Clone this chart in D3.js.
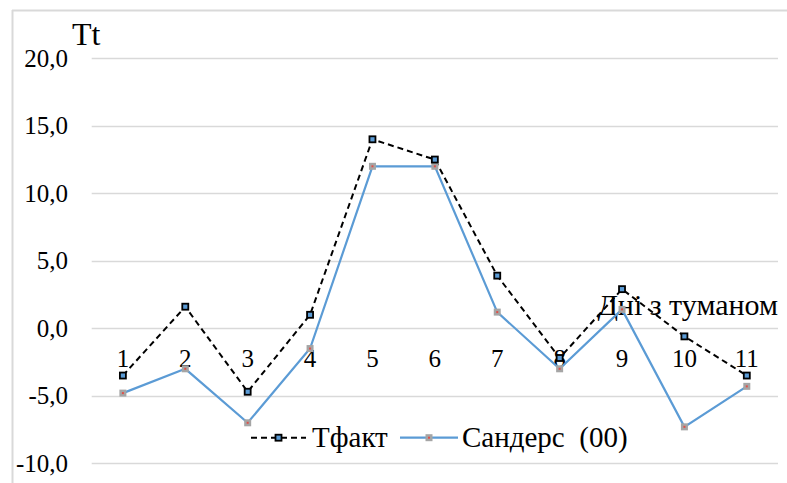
<!DOCTYPE html>
<html>
<head>
<meta charset="utf-8">
<script src="https://cdn.jsdelivr.net/npm/d3@7"></script>
<style>
  html, body { margin: 0; padding: 0; background: #fff; }
</style>
</head>
<body>
<svg id="chart" width="787" height="483"></svg>
<script>
// Days with fog and the air temperature values (fact vs. Sanders forecast)
const days = [1, 2, 3, 4, 5, 6, 7, 8, 9, 10, 11];
const tFact = [-3.5, 1.6, -4.7, 1.0, 14.0, 12.5, 3.9, -2.2, 2.9, -0.6, -3.5];
const sanders = [-4.8, -3.0, -7.0, -1.5, 12.0, 12.0, 1.2, -3.0, 1.4, -7.3, -4.3];
const yTicks = [-10, -5, 0, 5, 10, 15, 20];
const seriesNames = ["Тфакт", "Сандерс  (00)"];

const FONT = "'Liberation Serif', Tinos, 'Times New Roman', 'DejaVu Serif', serif";

const svg = d3.select("#chart")
  .attr("font-family", FONT)
  .style("font-family", FONT);

// chart frame (top and left edges visible)
svg.append("line").attr("x1", 12).attr("x2", 787).attr("y1", 10.5).attr("y2", 10.5)
  .attr("stroke", "#d9d9d9").attr("stroke-width", 2);
svg.append("line").attr("x1", 12.5).attr("x2", 12.5).attr("y1", 10).attr("y2", 483)
  .attr("stroke", "#d9d9d9").attr("stroke-width", 2);

const plot = { left: 91.7, right: 778, top: 58.3, bottom: 463.3 };

const x = d3.scaleBand().domain(days).range([plot.left, plot.right]);
const y = d3.scaleLinear().domain([-10, 20]).range([plot.bottom, plot.top]);
const cx = d => x(d) + x.bandwidth() / 2;

// horizontal gridlines
svg.append("g").selectAll("line").data(yTicks).join("line")
  .attr("x1", plot.left).attr("x2", plot.right)
  .attr("y1", d => Math.round(y(d)) + 0.5).attr("y2", d => Math.round(y(d)) + 0.5)
  .attr("stroke", "#d9d9d9").attr("stroke-width", 1.3);

// y tick labels
const fmt = v => v.toFixed(1).replace(".", ",");
svg.append("g").selectAll("text").data(yTicks).join("text")
  .attr("x", 68).attr("y", d => y(d) + 8.5)
  .attr("text-anchor", "end").attr("font-size", 25)
  .style("font-family", FONT)
  .text(fmt);

// y axis title
svg.append("text").attr("x", 72).attr("y", 45).attr("font-size", 32)
  .style("font-family", FONT).text("Tt");

// category labels sit just below the zero line
svg.append("g").selectAll("text").data(days).join("text")
  .attr("x", d => cx(d)).attr("y", y(0) + 38.5)
  .attr("text-anchor", "middle").attr("font-size", 25)
  .style("font-family", FONT)
  .text(d => d);

// x axis title
svg.append("text").attr("x", 778).attr("y", 315).attr("text-anchor", "end")
  .attr("font-size", 30).style("font-family", FONT).text("Дні з туманом");

// series lines
const line = d3.line().x((d, i) => cx(days[i])).y(d => y(d));

svg.append("path").datum(sanders).attr("d", line)
  .attr("fill", "none").attr("stroke", "#5b9bd5").attr("stroke-width", 2.2);

svg.append("path").datum(tFact).attr("d", line)
  .attr("fill", "none").attr("stroke", "#000").attr("stroke-width", 2)
  .attr("stroke-dasharray", "6,4");

// markers
function factMarker(g, px, py) {
  g.append("rect").attr("x", px - 3).attr("y", py - 3).attr("width", 6).attr("height", 6)
    .attr("fill", "#5b9bd5").attr("stroke", "#000").attr("stroke-width", 1.8);
}
function sandersMarker(g, px, py) {
  g.append("rect").attr("x", px - 3.5).attr("y", py - 3.5).attr("width", 7).attr("height", 7)
    .attr("fill", "#a5a5a5");
  g.append("rect").attr("x", px - 1).attr("y", py - 1).attr("width", 2).attr("height", 2)
    .attr("fill", "#e0504a");
}
const mg = svg.append("g");
sanders.forEach((v, i) => sandersMarker(mg, cx(days[i]), y(v)));
tFact.forEach((v, i) => factMarker(mg, cx(days[i]), y(v)));

// legend
const lg = svg.append("g");
const ly = 437.7;
lg.append("line").attr("x1", 251).attr("x2", 306).attr("y1", ly).attr("y2", ly)
  .attr("stroke", "#000").attr("stroke-width", 2).attr("stroke-dasharray", "6,4");
factMarker(lg, 278.5, ly);
lg.append("text").attr("x", 312).attr("y", 447).attr("font-size", 29)
  .style("font-family", FONT).text(seriesNames[0]);

lg.append("line").attr("x1", 400).attr("x2", 458).attr("y1", ly).attr("y2", ly)
  .attr("stroke", "#5b9bd5").attr("stroke-width", 2.2);
sandersMarker(lg, 429, ly);
lg.append("text").attr("x", 462).attr("y", 447).attr("font-size", 29)
  .style("font-family", FONT).style("white-space", "pre")
  .text(seriesNames[1]);
</script>
</body>
</html>
